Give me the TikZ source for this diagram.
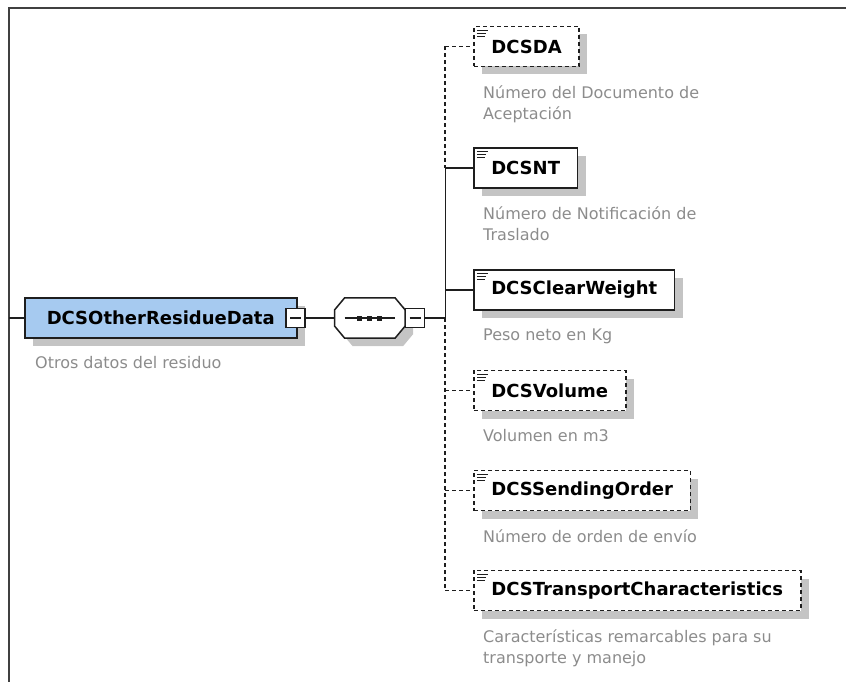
\documentclass[tikz,border=0pt]{standalone}
\usepackage{fontspec}
\setmainfont{DejaVu Sans}
\usepackage{xcolor}
\usepackage{tikz}
\usetikzlibrary{positioning,shadows}
\definecolor{SchemaBlue}{HTML}{A6CAF0}
\definecolor{SchemaNote}{HTML}{8C8C8C}
\definecolor{SchemaShadow}{HTML}{C4C4C4}
\definecolor{SchemaLine}{HTML}{1E1E1E}
\tikzset{
  boxshadow/.style={general shadow={shadow xshift=8pt, shadow yshift=-8pt,
                    fill=SchemaShadow}},
  box/.style={draw=SchemaLine, line width=1.5pt, fill=white, anchor=west,
              minimum height=40pt, inner xsep=17.5pt, inner ysep=0pt,
              font=\fontsize{18}{22}\selectfont\bfseries, boxshadow},
  element/.style={box, path picture={
      \foreach \len/\dy in {11pt/3.5pt,9pt/6.5pt,8pt/9.5pt}
        \draw[solid, line width=0.9pt] ([xshift=3pt,yshift=-\dy]path picture bounding box.north west)
          -- ++(\len,0pt);}},
  optional/.style={line width=1.9pt, dash pattern=on 4pt off 3pt},
  minusbox/.style={draw=SchemaLine, line width=1.3pt, fill=white, minimum size=19pt,
                   inner sep=0pt, path picture={
      \draw[line width=1.3pt] ([xshift=4pt]path picture bounding box.west)
        -- ([xshift=-4pt]path picture bounding box.east);}},
  seqbox/.style={minimum width=70pt, minimum height=40pt, inner sep=0pt},
  note/.style={align=left, inner sep=0pt, text=SchemaNote,
               font=\fontsize{16}{21}\selectfont},
  link/.style={draw=SchemaLine, line width=1.5pt},
  optlink/.style={link, line width=1.9pt, dash pattern=on 4pt off 3pt},
  viewframe/.style={draw=SchemaLine!85, line width=2pt}
}
\begin{document}
\begin{tikzpicture}[x=1pt, y=-1pt]
  \useasboundingbox (0,0) rectangle (846,682);
  \draw[viewframe] (9,682) -- (9,8) -- (846,8);
  % root element and its sequence
  \node[box, fill=SchemaBlue, minimum width=272pt, inner xsep=19pt] (residue) at (24,318) {DCSOtherResidueData};
  \node[minusbox] (residueminus) at ([xshift=-2pt]residue.east) {};
  \node[note, below=17pt of residue.south west, anchor=north west, xshift=11pt] (residuenote) {Otros datos del residuo};
  \node[seqbox, right=29pt of residueminus] (seq) {};
  \draw[link, fill=white, boxshadow] ([xshift=10pt]seq.north west) -- ([xshift=-10pt]seq.north east)
    -- ([yshift=-12pt]seq.north east) -- ([yshift=12pt]seq.south east)
    -- ([xshift=-10pt]seq.south east) -- ([xshift=10pt]seq.south west)
    -- ([yshift=12pt]seq.south west) -- ([yshift=-12pt]seq.north west) -- cycle;
  \draw[link] ([xshift=10pt]seq.west) -- ([xshift=-10pt]seq.east);
  \foreach \dx in {-10pt,0pt,10pt}
    \fill[SchemaLine] ([xshift=\dx]seq.center) +(-2.5pt,-2.5pt) rectangle +(2.5pt,2.5pt);
  \node[minusbox, right=0pt of seq] (seqminus) {};
  \coordinate[right=20pt of seqminus] (bus);
  \coordinate (parent) at (9,318);
  % child elements
  \node[element, optional] (dcsda) at (473,46.5) {DCSDA};
  \node[element] (dcsnt) at (473,168) {DCSNT};
  \node[element] (dcsweight) at (473,290) {DCSClearWeight};
  \node[element, optional] (dcsvolume) at (473,390.5) {DCSVolume};
  \node[element, optional] (dcsorder) at (473,490.5) {DCSSendingOrder};
  \node[element, optional] (dcstransport) at (473,590.5) {DCSTransportCharacteristics};
  \node[note, below=18pt of dcsda.south west, anchor=north west, xshift=10pt] (dcsdanote) {Número del Documento de\\Aceptación};
  \node[note, below=18pt of dcsnt.south west, anchor=north west, xshift=10pt] (dcsntnote) {Número de Notificación de\\Traslado};
  \node[note, below=18pt of dcsweight.south west, anchor=north west, xshift=10pt] (dcsweightnote) {Peso neto en Kg};
  \node[note, below=18pt of dcsvolume.south west, anchor=north west, xshift=10pt] (dcsvolumenote) {Volumen en m3};
  \node[note, below=18pt of dcsorder.south west, anchor=north west, xshift=10pt] (dcsordernote) {Número de orden de envío};
  \node[note, below=18pt of dcstransport.south west, anchor=north west, xshift=10pt] (dcstransportnote) {Características remarcables para su\\transporte y manejo};
  % connectors
  \draw[link] (parent) -- (residue);
  \draw[link] (residueminus) -- (seq);
  \draw[link] (seqminus) -- (bus);
  \draw[optlink] (bus |- dcsda) -- (bus |- dcsnt);
  \draw[link] (bus |- dcsnt) -- (bus);
  \draw[optlink] (bus) -- (bus |- dcstransport);
  \draw[optlink] (bus |- dcsda) -- (dcsda);
  \draw[link] (bus |- dcsnt) -- (dcsnt);
  \draw[link] (bus |- dcsweight) -- (dcsweight);
  \draw[optlink] (bus |- dcsvolume) -- (dcsvolume);
  \draw[optlink] (bus |- dcsorder) -- (dcsorder);
  \draw[optlink] (bus |- dcstransport) -- (dcstransport);
\end{tikzpicture}
\end{document}
